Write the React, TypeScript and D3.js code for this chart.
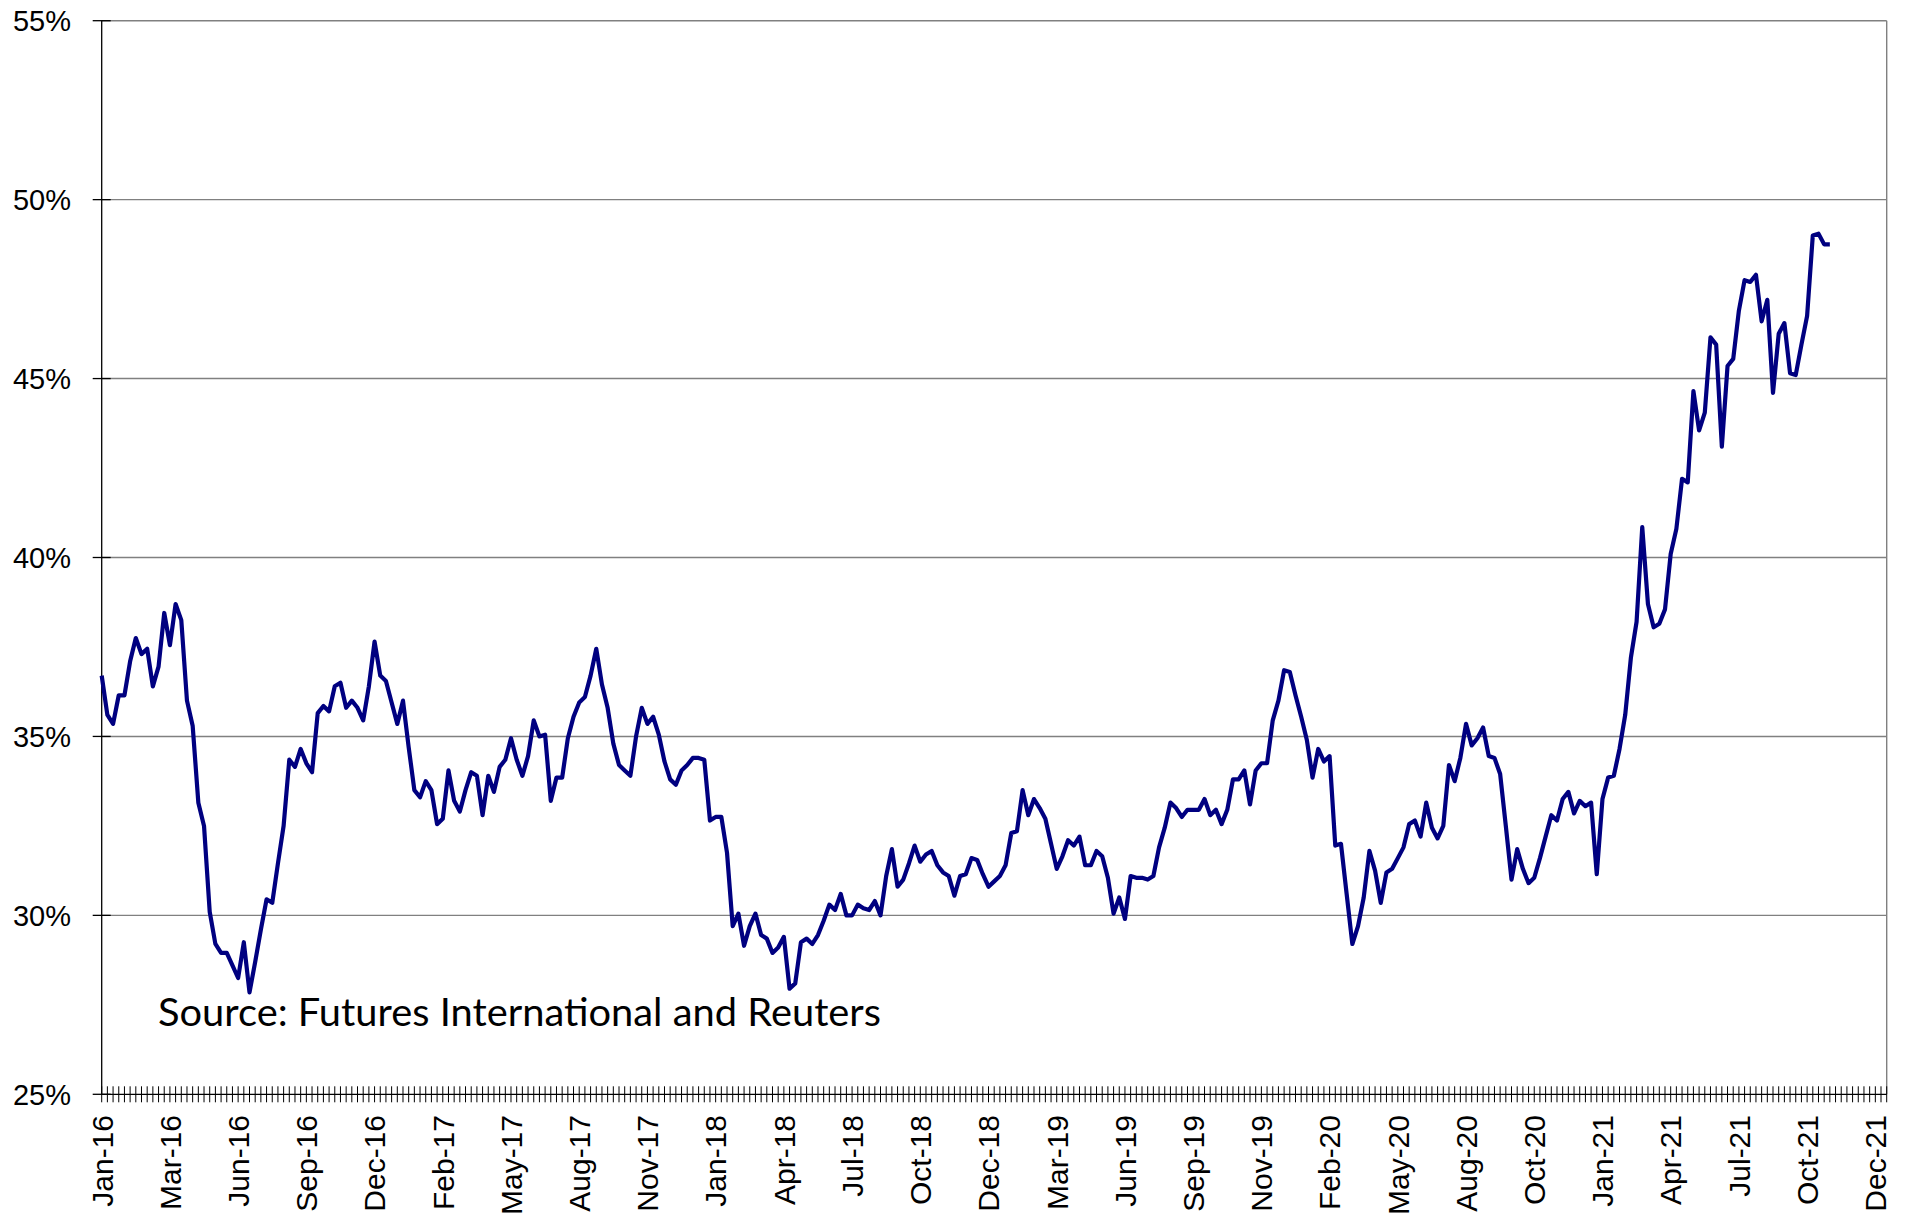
import React from 'react'
import * as d3 from 'd3'

// weekly readings, first week is 1 Jan 2016
const startDate = new Date(2016, 0, 1)
const categoryCount = 315

const values2016 = [
	36.7, 35.6, 35.35, 36.15, 36.15, 37.1, 37.75, 37.3, 37.45, 36.4,
	36.95, 38.45, 37.55, 38.7, 38.25, 36.0, 35.3, 33.15, 32.5, 30.1,
	29.2, 28.95, 28.95, 28.6, 28.25, 29.25, 27.85, 28.7, 29.6, 30.45,
	30.35, 31.45, 32.5, 34.35, 34.15, 34.65, 34.25, 34.0, 35.65, 35.85,
	35.7, 36.4, 36.5, 35.8, 36.0, 35.8, 35.45, 36.4, 37.65, 36.7,
	36.55, 35.95, 35.35,
]
const values2017 = [
	36.0, 34.7, 33.5, 33.3, 33.75, 33.5, 32.55,
	32.7, 34.05, 33.2, 32.9, 33.5, 34.0, 33.9, 32.8, 33.9, 33.45,
	34.15, 34.35, 34.95, 34.35, 33.9, 34.45, 35.45, 35.0, 35.05, 33.2,
	33.85, 33.85, 34.95, 35.55, 35.95, 36.1, 36.7, 37.45, 36.45, 35.8,
	34.8, 34.2, 34.05, 33.9, 35.0, 35.8, 35.35, 35.55, 35.05, 34.3,
	33.8, 33.65, 34.05, 34.2, 34.4,
]
const values2018 = [
	34.4, 34.35, 32.65, 32.75, 32.75,
	31.75, 29.7, 30.05, 29.15, 29.7, 30.05, 29.45, 29.35, 28.95, 29.1,
	29.4, 27.95, 28.1, 29.25, 29.35, 29.2, 29.45, 29.85, 30.3, 30.15,
	30.6, 30.0, 30.0, 30.3, 30.2, 30.15, 30.4, 30.0, 31.1, 31.85,
	30.8, 31.0, 31.45, 31.95, 31.5, 31.7, 31.8, 31.4, 31.2, 31.1,
	30.55, 31.1, 31.15, 31.6, 31.55, 31.15, 30.8,
]
const values2019 = [
	30.95, 31.1, 31.4,
	32.3, 32.35, 33.5, 32.8, 33.25, 33.0, 32.7, 32.0, 31.3, 31.65,
	32.1, 31.95, 32.2, 31.4, 31.4, 31.8, 31.65, 31.05, 30.05, 30.5,
	29.9, 31.1, 31.05, 31.05, 31.0, 31.1, 31.9, 32.45, 33.15, 33.0,
	32.75, 32.95, 32.95, 32.95, 33.25, 32.8, 32.95, 32.55, 32.95, 33.8,
	33.8, 34.05, 33.1, 34.05, 34.25, 34.25, 35.45, 36.0, 36.85,
]
const values2020 = [
	36.8,
	36.15, 35.55, 34.9, 33.85, 34.65, 34.3, 34.45, 31.95, 32.0, 30.6,
	29.2, 29.7, 30.5, 31.8, 31.25, 30.35, 31.2, 31.3, 31.6, 31.9,
	32.55, 32.65, 32.2, 33.15, 32.45, 32.15, 32.5, 34.2, 33.75, 34.4,
	35.35, 34.75, 34.95, 35.25, 34.45, 34.4, 33.95, 32.5, 31.0, 31.85,
	31.3, 30.9, 31.05, 31.6, 32.2, 32.8, 32.65, 33.25, 33.45, 32.85, 33.2,
]
const values2021 = [
	33.05, 33.15, 31.15, 33.25, 33.85, 33.9, 34.65, 35.6, 37.2,
	38.2, 40.85, 38.7, 38.05, 38.15, 38.55, 40.1, 40.8, 42.2, 42.1,
	44.65, 43.55, 44.05, 46.15, 45.95, 43.1, 45.35, 45.55, 46.9, 47.75,
	47.7, 47.9, 46.6, 47.2, 44.6, 46.25, 46.55, 45.15, 45.1, 45.95,
	46.75, 49.0, 49.05, 48.75, 48.75,
]

const tickLabels = [
	'Jan-16', 'Mar-16', 'Jun-16', 'Sep-16', 'Dec-16', 'Feb-17', 'May-17',
	'Aug-17', 'Nov-17', 'Jan-18', 'Apr-18', 'Jul-18', 'Oct-18', 'Dec-18',
	'Mar-19', 'Jun-19', 'Sep-19', 'Nov-19', 'Feb-20', 'May-20', 'Aug-20',
	'Oct-20', 'Jan-21', 'Apr-21', 'Jul-21', 'Oct-21', 'Dec-21',
]
const labelEvery = 12
const yTicks = [25, 30, 35, 40, 45, 50, 55]

const series = [...values2016, ...values2017, ...values2018, ...values2019, ...values2020, ...values2021]
const fmt = d3.timeFormat('%Y-%m-%d')
const categories = d3.range(categoryCount).map(i => fmt(d3.timeWeek.offset(startDate, i)))

const width = 1906
const height = 1222
const left = 101.7
const right = 1886.7
const top = 20.7
const bottom = 1094.3

const App = () => {
	const x = d3.scalePoint<string>().domain(categories).range([left, right]).padding(0)
	const y = d3.scaleLinear().domain([25, 55]).range([bottom, top])

	const line = d3
		.line<number>()
		.x((d, i) => x(categories[i]) as number)
		.y(d => y(d))

	const font = '"Liberation Sans", Arial, sans-serif'

	return (
		<div style={{ position: 'absolute', left: 0, top: 0 }}>
			<svg width={width} height={height} style={{ display: 'block', background: '#fff' }}>
				{/* grid */}
				{yTicks.filter(t => t > 25).map(t => (
					<line key={'g' + t} x1={left} x2={right} y1={y(t)} y2={y(t)} stroke='#808080' strokeWidth={1.4} />
				))}
				<line x1={right} x2={right} y1={top} y2={bottom} stroke='#808080' strokeWidth={1.4} />

				{/* y axis */}
				<line x1={left} x2={left} y1={top} y2={bottom} stroke='#000' strokeWidth={1.3} />
				{yTicks.map(t => (
					<g key={'y' + t}>
						<line x1={left - 9} x2={left + 9} y1={y(t)} y2={y(t)} stroke='#000' strokeWidth={1.3} />
						<text x={71} y={y(t)} dy='0.36em' textAnchor='end' fontFamily={font} fontSize={29} fill='#000'>
							{t}%
						</text>
					</g>
				))}

				{/* x axis */}
				<line x1={left} x2={right} y1={bottom} y2={bottom} stroke='#000' strokeWidth={1.3} />
				{categories.map(c => (
					<line key={c} x1={x(c)} x2={x(c)} y1={bottom - 8} y2={bottom + 8} stroke='#000' strokeWidth={1} />
				))}
				{tickLabels.map((lbl, i) => {
					const cx = x(categories[i * labelEvery]) as number
					return (
						<text
							key={lbl}
							transform={`translate(${cx}, 1115) rotate(-90)`}
							dy='0.36em'
							textAnchor='end'
							fontFamily={font}
							fontSize={30}
							fill='#000'
						>
							{lbl}
						</text>
					)
				})}

				<path d={line(series) || ''} fill='none' stroke='#000080' strokeWidth={4.2} strokeLinejoin='round' />

				<text x={158} y={1026} fontFamily='Lato, "Open Sans", sans-serif' fontSize={38} fill='#000' textLength={723} lengthAdjust='spacingAndGlyphs'>
					Source: Futures International and Reuters
				</text>
			</svg>
		</div>
	)
}

export default App
